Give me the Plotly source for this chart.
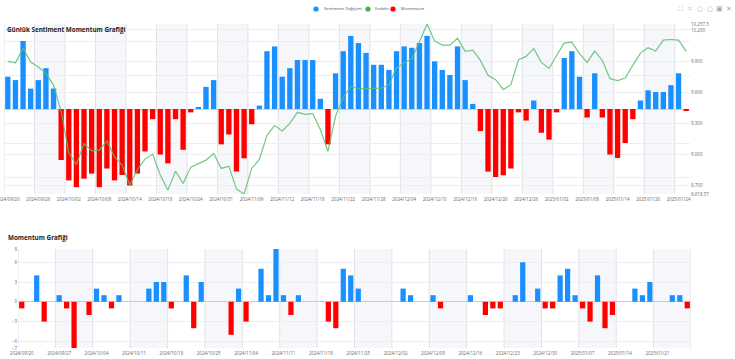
import plotly.graph_objects as go

W, H = 735, 359
top_labels = {0:"2024/09/20",4:"2024/09/26",8:"2024/10/02",12:"2024/10/08",16:"2024/10/14",20:"2024/10/18",24:"2024/10/24",28:"2024/10/31",32:"2024/11/06",36:"2024/11/12",40:"2024/11/18",44:"2024/11/22",48:"2024/11/28",52:"2024/12/04",56:"2024/12/10",60:"2024/12/16",64:"2024/12/20",68:"2024/12/26",72:"2025/01/02",76:"2025/01/08",80:"2025/01/14",84:"2025/01/20",88:"2025/01/24"}
bottom_labels = {0:"2024/09/20",5:"2024/09/27",10:"2024/10/04",15:"2024/10/11",20:"2024/10/18",25:"2024/10/25",30:"2024/11/04",35:"2024/11/11",40:"2024/11/18",45:"2024/11/25",50:"2024/12/02",55:"2024/12/09",60:"2024/12/16",65:"2024/12/23",70:"2024/12/30",75:"2025/01/07",80:"2025/01/14",85:"2025/01/21"}

sentiment = [4.75,4.25,10,3,4.25,6,3,-7.5,-10.5,-11.5,-10.25,-9.5,-11.5,-8.75,-10.5,-9.7,-11.25,-9.5,-6.25,-1.5,
             -6.7,-8,-1.5,-6,-0.5,0.3,3.25,4.25,-5.2,-3.75,-9.2,-7.25,-2.25,0.5,8.5,9.2,4.75,6,7.2,7.2,
             7.2,1.5,-5.2,5.25,8.5,10.75,9.7,8.25,6.5,6.5,5.75,8.5,9.2,9,9.7,10.75,7,5.75,5,9.2,
             4.25,0.75,-3.25,-9.2,-10,-9.75,-8.75,-0.5,-1.7,1.25,-3.5,-4.5,-0.5,7.5,8.5,4.75,-1.25,5.25,-1.25,-6.7,
             -7.2,-5,-1.5,1.25,2.75,2.5,2.5,3.5,5.25,-0.25]
index_values = [9897,9884,10025,9890,9842,9785,9666,9413,9015,8903,9105,9035,9041,9128,8977,8897,8705,8855,8955,9003,
                8801,8656,8839,8720,8878,8910,8945,9009,8865,8887,8666,8618.57,8865,8951,9185,9278,9227,9300,9406,9387,
                9394,9240,9031,9368,9547,9656,9634,9634,9634,9640,9672,9833,9881,9922,10083,10257.3,10092,10054,10054,10121,
                9993,10006,9906,9762,9720,9624,9672,9913,9945,10022,9887,9829,9954,10073,10083,9971,9887,9996,9906,9730,
                9711,9737,9858,9977,10028,9996,10102,10108,10102,9993]
momentum = [-1,0,4,-3,0,1,-1,-7,0,-2,2,1,-1,1,0,0,0,2,3,3,
            -1,0,4,-4,3,0,0,0,-5,2,-3,0,5,1,8,1,-2,1,0,0,
            0,-3,-4,5,4,2,0,0,0,0,0,2,1,0,0,1,-1,0,0,0,
            1,0,-2,-1,-1,0,1,6,0,2,-1,-1,4,5,1,-1,-3,4,-4,-2,
            0,0,2,1,3,0,0,1,1,-1]
index_ticks = [8618.57,8700,9000,9300,9600,9900,10200,10257.3]
index_tick_text = ["8,618.57","8,700","9,000","9,300","9,600","9,900","10,200","10,257.3"]
momentum_ticks = [-7,-6,-3,0,3,6,8]
legend_items = [("Sentiment Değişimi","#1890ff",316,323),("Endeks","#3cb44b",368,374),("Momentum","#ff0000",393,400)]
tool_glyphs = ["⛶","⌗","○","○","▣","✕"]

BLUE, RED = "#1890ff", "#ff0000"
GRID, BAND, VLINE, TXT = "#eeeef2", "#f6f7fb", "#e2e2e8", "#6a6a6a"
FONT = "Open Sans"
xs = list(range(len(sentiment)))
col = lambda v: [BLUE if a >= 0 else RED for a in v]
fx = lambda p: p / W
fy = lambda p: 1 - p / H

fig = go.Figure()
fig.add_trace(go.Bar(x=xs, y=sentiment, marker_color=col(sentiment), marker_line_width=0, width=0.7,
                     name="Sentiment Değişimi", xaxis="x", yaxis="y", showlegend=False))
fig.add_trace(go.Scatter(x=xs, y=index_values, mode="lines", line=dict(color="rgba(90,190,110,0.85)", width=1.2),
                         name="Endeks", xaxis="x", yaxis="y2", showlegend=False))
fig.add_trace(go.Bar(x=xs, y=momentum, marker_color=col(momentum), marker_line_width=0, width=0.7,
                     name="Momentum", xaxis="x2", yaxis="y3", showlegend=False))

shapes = []
def bands(xref, yref, step):
    for s in range(0, len(xs) + step, step):
        a = s - 0.5
        if s % (2 * step) == step and a < 89.5:
            shapes.append(dict(type="rect", xref=xref, yref=yref + " domain", x0=a, x1=min(a + step, 89.5), y0=0, y1=1,
                               fillcolor=BAND, line_width=0, layer="below"))
        if a <= 89.5:
            shapes.append(dict(type="line", xref=xref, yref=yref + " domain", x0=a, x1=a, y0=0, y1=1,
                               line=dict(color=VLINE, width=1), layer="below"))
bands("x", "y", 4)
bands("x2", "y3", 5)
for name, c, dot, tx in legend_items:
    shapes.append(dict(type="circle", xref="paper", yref="paper", x0=fx(dot - 2.6), x1=fx(dot + 2.6), y0=fy(11.6), y1=fy(6.4),
                       fillcolor=c, line_width=0))

ann = [
    dict(text="<b>Günlük Sentiment Momentum Grafiği</b>", x=fx(4.5), y=fy(29), xanchor="left", yanchor="middle",
         font=dict(size=6.3, color="#222", family=FONT), showarrow=False, xref="paper", yref="paper"),
    dict(text="<b>Momentum Grafiği</b>", x=fx(5.5), y=fy(237), xanchor="left", yanchor="middle",
         font=dict(size=6.3, color="#222", family=FONT), showarrow=False, xref="paper", yref="paper"),
]
for name, c, dot, tx in legend_items:
    ann.append(dict(text=name, x=fx(tx - 1.5), y=fy(9), xanchor="left", yanchor="middle", showarrow=False,
                    font=dict(size=4.2, color="#555", family=FONT), xref="paper", yref="paper"))
for g, p in zip(tool_glyphs, [680.7, 690.3, 700, 709.7, 719, 728.7]):
    ann.append(dict(text=g, x=fx(p), y=fy(9), xanchor="center", yanchor="middle", showarrow=False,
                    font=dict(size=7, color="#aaa", family="DejaVu Sans"), xref="paper", yref="paper"))

tick_font = dict(size=4.5, color=TXT, family=FONT)
fig.update_layout(
    width=W, height=H, autosize=False, margin=dict(l=0, r=0, t=0, b=0, autoexpand=False), paper_bgcolor="white", plot_bgcolor="rgba(0,0,0,0)",
    barmode="overlay", showlegend=False, shapes=shapes, annotations=ann,
    xaxis=dict(domain=[fx(4), fx(690)], range=[-0.5, 89.5], tickmode="array", tickvals=list(top_labels), ticktext=list(top_labels.values()),
               tickangle=0, tickfont=tick_font, showgrid=False, zeroline=False, ticks="", anchor="y", ticklabelstandoff=1, ticklabeloverflow="allow"),
    yaxis=dict(domain=[fy(194), fy(24)], range=[-12.5, 12.5], dtick=5, tick0=0, showticklabels=False, gridcolor=GRID, gridwidth=1,
               zeroline=True, zerolinecolor="#cfd2da", zerolinewidth=1),
    yaxis2=dict(domain=[fy(194), fy(24)], overlaying="y", side="right", anchor="x", range=[8618.57, 10257.3], tickmode="array",
                tickvals=index_ticks, ticktext=index_tick_text, tickfont=tick_font, gridcolor=GRID, gridwidth=1, zeroline=False, ticks=""),
    xaxis2=dict(domain=[fx(18), fx(691)], range=[-0.5, 89.5], tickmode="array", tickvals=list(bottom_labels), ticktext=list(bottom_labels.values()),
                tickangle=0, tickfont=tick_font, showgrid=False, zeroline=False, ticks="", anchor="y3", ticklabelstandoff=1, ticklabeloverflow="allow"),
    yaxis3=dict(domain=[fy(348), fy(249)], range=[-7, 8], anchor="x2", tickmode="array", tickvals=momentum_ticks, tickfont=tick_font,
                gridcolor=GRID, gridwidth=1, zeroline=True, zerolinecolor="#c8cad2", zerolinewidth=1, ticks=""),
)
fig.write_html("out.html", config=dict(displayModeBar=False),
               post_script="document.body.style.margin='0';document.body.style.overflow='hidden';")
